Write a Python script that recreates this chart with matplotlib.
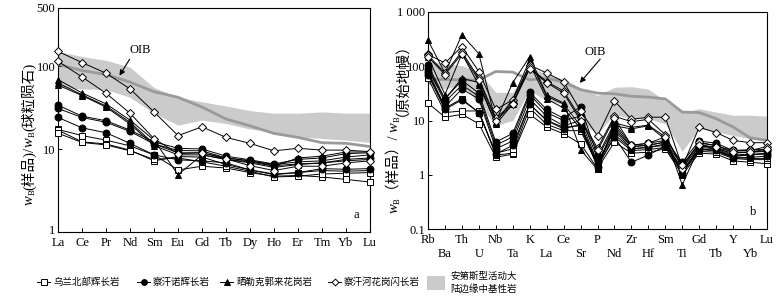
import numpy as np
import matplotlib
matplotlib.use("Agg")
import matplotlib.pyplot as plt
from matplotlib.lines import Line2D
from matplotlib.patches import Rectangle
from matplotlib.transforms import IdentityTransform, ScaledTranslation

plt.rcParams.update({'font.family': ['Liberation Serif', 'Noto Sans CJK SC'],
                     'font.size': 9, 'axes.linewidth': 0.8})

# ---- chondrite-normalised REE (panel a) ----
ree = ['La', 'Ce', 'Pr', 'Nd', 'Sm', 'Eu', 'Gd', 'Tb', 'Dy', 'Ho', 'Er', 'Tm', 'Yb', 'Lu']

ree_squares = [
    [17.2, 14.5, 12.8, 10.9, 8.5, 5.6, 6.2, 5.9, 5.2, 4.7, 4.8, 4.6, 4.3, 4.0],
    [16.9, 12.2, 11.5, 9.7, 7.2, 8.1, 8.0, 6.5, 5.6, 4.9, 5.2, 5.5, 5.4, 5.5],
    [15.5, 12.0, 11.2, 9.5, 7.5, 7.8, 7.0, 6.2, 5.4, 4.6, 4.7, 5.0, 5.1, 5.2],
]
ree_circles = [
    [33.7, 24.9, 21.9, 16.9, 12.2, 10.2, 10.0, 8.2, 7.4, 6.6, 7.5, 7.8, 8.8, 9.0],
    [30.8, 24.0, 21.0, 16.3, 11.5, 9.6, 9.5, 7.8, 7.2, 6.3, 6.6, 6.8, 7.5, 7.8],
    [24.0, 18.0, 15.7, 11.7, 8.5, 7.4, 7.2, 6.8, 5.6, 5.0, 5.2, 5.8, 5.7, 5.8],
]
ree_triangles = [
    [68.5, 47.4, 35.0, 22.3, 12.8, 4.9, 8.5, 7.5, 7.0, 6.2, 7.8, 8.2, 9.2, 9.2],
    [62.5, 45.0, 33.0, 21.0, 11.5, 9.0, 9.0, 7.8, 7.2, 6.5, 7.0, 7.2, 8.0, 8.5],
    [59.0, 44.0, 32.0, 20.0, 11.0, 8.5, 8.5, 7.5, 6.8, 6.0, 6.5, 6.8, 7.2, 7.5],
]
ree_diamonds = [
    [150, 110, 82, 53, 28, 14.5, 18.5, 13.8, 11.7, 9.5, 10.2, 9.7, 9.7, 9.3],
    [114, 74, 47, 27, 13.3, 8.8, 9.0, 7.6, 6.3, 5.5, 6.2, 6.2, 6.8, 7.2],
]
ree_band_hi = [150, 130, 117, 97, 55, 42, 37, 33, 29, 27, 27, 28, 27, 27]
ree_band_lo = [55, 53, 52, 42, 27, 19.4, 22.3, 20.3, 17.4, 16, 14, 13.4, 12.8, 12.0]
ree_oib = [105, 88, 79, 64, 49, 42, 32, 23, 19, 15.4, 13.8, 11.9, 11.7, 10.7]

# ---- primitive-mantle-normalised spider (panel b) ----
spd = ['Rb', 'Ba', 'Th', 'U', 'Nb', 'Ta', 'K', 'La', 'Ce', 'Sr', 'P', 'Nd', 'Zr', 'Hf',
       'Sm', 'Ti', 'Gd', 'Tb', 'Y', 'Yb', 'Lu']

spd_squares = [
    [21, 11.5, 13, 8.7, 2.1, 2.4, 13, 7.6, 5.7, 3.7, 1.3, 4.0, 2.5, 2.6, 3.0, 1.0, 2.5, 2.4, 1.8, 1.7, 1.6],
    [60, 14, 15, 15, 2.3, 2.5, 17, 8.5, 6.5, 6.5, 1.5, 5.0, 2.8, 2.9, 3.2, 1.1, 2.7, 2.6, 2.0, 1.9, 1.9],
    [75, 17, 25, 14, 2.5, 3.0, 20, 10, 7.5, 8.0, 1.7, 5.5, 3.0, 3.2, 3.5, 1.2, 2.9, 2.8, 2.1, 2.0, 2.0],
]
spd_circles = [
    [105, 25, 55, 32, 4.0, 5.8, 33, 16, 11, 18, 2.2, 9.0, 3.5, 3.8, 4.3, 1.7, 4.2, 3.8, 2.8, 2.9, 2.9],
    [90, 22, 45, 28, 3.5, 5.0, 30, 14, 10, 12, 2.0, 8.0, 3.3, 3.5, 4.0, 1.5, 3.8, 3.5, 2.6, 2.6, 2.7],
    [80, 18, 38, 25, 3.0, 4.2, 25, 12, 8.0, 10, 1.7, 6.5, 3.0, 3.2, 3.7, 1.3, 3.4, 3.2, 2.3, 2.4, 2.4],
    [70, 16, 24, 14, 2.4, 3.5, 20, 10, 7.0, 8.5, 1.4, 5.0, 1.7, 2.3, 3.4, 1.1, 3.0, 2.8, 2.0, 2.1, 2.2],
]
spd_triangles = [
    [300, 75, 380, 170, 9.5, 50, 150, 30, 21, 2.9, 1.25, 9.0, 7.5, 8.2, 5.0, 0.65, 3.2, 3.0, 2.2, 2.3, 2.5],
    [150, 30, 170, 45, 9.0, 25, 130, 28, 20, 8.0, 1.4, 8.0, 7.0, 8.0, 4.5, 1.0, 3.5, 3.0, 2.5, 2.6, 2.8],
    [90, 25, 60, 50, 8.5, 20, 110, 25, 17, 7.0, 1.6, 7.0, 3.3, 3.5, 4.0, 1.2, 3.0, 2.8, 2.2, 2.3, 2.5],
]
spd_diamonds = [
    [165, 115, 230, 80, 16, 24, 105, 75, 52, 15, 5.2, 23, 10.5, 11.5, 11.5, 1.4, 7.5, 6.0, 4.3, 3.9, 3.9],
    [160, 75, 185, 60, 11, 21, 95, 52, 35, 11, 3.1, 12, 9.5, 10.5, 5.5, 1.3, 4.0, 3.4, 2.8, 2.8, 3.3],
    [150, 70, 170, 55, 10, 20, 90, 50, 32, 10, 2.8, 11, 3.5, 3.8, 5.0, 1.5, 3.6, 3.2, 2.6, 2.6, 3.0],
]
spd_band_hi = [127, 110, 103, 78, 33, 33, 96, 72, 58, 40, 29, 41, 42, 38, 23, 14, 16.5, 14.3, 12.5, 12.5, 12]
spd_band_lo = [47, 38, 47, 20, 8.1, 10, 36, 23, 20, 9.4, 5.7, 13, 10.8, 10.8, 8.7, 2.7, 7.1, 6.2, 5.3, 4.6, 4.3]
spd_oib = [58, 57, 56, 56, 80, 78, 56, 61, 51, 37, 32, 31, 28, 27, 25, 14.3, 14, 10.8, 7.6, 4.8, 4.3]

labels = ['乌兰北部辉长岩', '察汗诺辉长岩', '晒勒克郭来花岗岩', '察汗河花岗闪长岩']
styles = [dict(marker='s', mfc='white', ms=5),
          dict(marker='o', mfc='black', ms=5),
          dict(marker='^', mfc='black', ms=5),
          dict(marker='D', mfc='white', ms=4.3)]
band_color = '#cbcbcb'
oib_color = '#9a9a9a'


def draw(ax, names, groups, hi, lo, oib):
    x = np.arange(len(names))
    ax.fill_between(x, lo, hi, color=band_color, lw=0, zorder=1)
    ax.plot(x, oib, color=oib_color, lw=2, zorder=2)
    for group, st in zip(groups, styles):
        for vals in group:
            ax.plot(x, vals, color='black', lw=0.7, mec='black', mew=0.7,
                    zorder=3, clip_on=False, **st)
    ax.set_yscale('log')
    ax.set_xlim(0, len(names) - 1)
    ax.set_xticks(x)
    ax.minorticks_off()
    ax.tick_params(direction='in', length=3, width=0.7, labelsize=9, pad=2)


def vlabel(fig, xbase, yc, pieces):
    # rotated y label built from pieces so w can be italic with subscript B
    r = fig.canvas.get_renderer()
    arts = []
    total = 0
    for s, size, dx, style in pieces:
        t = fig.text(0, 0, s, fontsize=size, style=style, rotation=90,
                     rotation_mode='anchor', ha='left', va='baseline',
                     transform=IdentityTransform())
        h = t.get_window_extent(r).height
        arts.append((t, dx, h))
        total += h
    y = yc - total / 2
    for t, dx, h in arts:
        t.set_position((xbase + dx, y))
        y += h


fig = plt.figure(figsize=(7.8, 2.96), dpi=100)

# panel a
ax1 = fig.add_axes([58 / 780, 1 - 232 / 296, 312 / 780, 224 / 296])
draw(ax1, ree, [ree_squares, ree_circles, ree_triangles, ree_diamonds],
     ree_band_hi, ree_band_lo, ree_oib)
ax1.set_ylim(1, 500)
ax1.set_yticks([1, 10, 100, 500])
ax1.set_yticklabels(['1', '10', '100', '500'])
ax1.set_xticklabels(ree)
ax1.tick_params(axis='x', pad=3.5)
# lift the "1" a little so it clears the La label
lab1 = ax1.get_yticklabels()[0]
lab1.set_transform(lab1.get_transform() + ScaledTranslation(0, 2 / 72, fig.dpi_scale_trans))
ax1.text(140, 296 - 50, 'OIB', transform=IdentityTransform(), ha='center', va='center')
ax1.annotate('', xy=(118, 296 - 78), xycoords='figure pixels',
             xytext=(131, 296 - 57), textcoords='figure pixels',
             arrowprops=dict(arrowstyle='-|>', color='black', lw=0.8,
                             mutation_scale=8))
ax1.text(0.955, 0.05, 'a', transform=ax1.transAxes, ha='center', va='bottom')

# panel b
ax2 = fig.add_axes([428 / 780, 1 - 229 / 296, 339 / 780, 217 / 296])
draw(ax2, spd, [spd_squares, spd_circles, spd_triangles, spd_diamonds],
     spd_band_hi, spd_band_lo, spd_oib)
ax2.set_ylim(0.1, 1000)
ax2.set_yticks([0.1, 1, 10, 100, 1000])
ax2.set_yticklabels(['0.1', '1', '10', '100', '1 000'])
ax2.set_xticklabels(spd)
for i, t in enumerate(ax2.xaxis.get_major_ticks()):
    t.set_pad(3.5 if i % 2 == 0 else 13.5)
ax2.text(595, 296 - 52, 'OIB', transform=IdentityTransform(), ha='center', va='center')
ax2.annotate('', xy=(578, 296 - 85), xycoords='figure pixels',
             xytext=(602, 296 - 57), textcoords='figure pixels',
             arrowprops=dict(arrowstyle='-|>', color='black', lw=0.8,
                             mutation_scale=8))
ax2.text(0.96, 0.05, 'b', transform=ax2.transAxes, ha='center', va='bottom')

# y labels: w_B(样品)/w_B(...)
vlabel(fig, 33, 296 - 134, [('w', 10.5, 0, 'italic'), ('B', 6, 2, 'normal'),
                            ('(样品)/', 10.5, 0, 'normal'),
                            ('w', 10.5, 0, 'italic'), ('B', 6, 2, 'normal'),
                            ('(球粒陨石)', 10.5, 0, 'normal')])
vlabel(fig, 398, 296 - 121, [('w', 10.5, 0, 'italic'), ('B', 6, 2, 'normal'),
                             ('（样品）/ ', 10.5, 0, 'normal'),
                             ('w', 10.5, 0, 'italic'), ('B', 6, 2, 'normal'),
                             ('（原始地幔）', 10.5, 0, 'normal')])

# legend along the bottom
yl = 1 - 282 / 296
starts = [37, 137, 220, 328]
for x0, lab, st in zip(starts, labels, styles):
    ln = Line2D([x0 / 780, (x0 + 6.5) / 780, (x0 + 13) / 780], [yl, yl, yl],
                transform=fig.transFigure, color='black', lw=0.7, mec='black',
                mew=0.7, markevery=[1], marker=st['marker'], mfc=st['mfc'],
                ms=st['ms'] - 0.8)
    fig.add_artist(ln)
    fig.text((x0 + 16) / 780, yl, lab, fontsize=6.8, va='center', ha='left',
             family='Noto Sans CJK SC')
fig.add_artist(Rectangle((427 / 780, 1 - 290 / 296), 18 / 780, 14 / 296,
                         transform=fig.transFigure, color=band_color, lw=0))
fig.text(450 / 780, 1 - 276 / 296, '安第斯型活动大', fontsize=6.8, va='center',
         family='Noto Sans CJK SC')
fig.text(450 / 780, 1 - 289 / 296, '陆边缘中基性岩', fontsize=6.8, va='center',
         family='Noto Sans CJK SC')

fig.savefig('out.png', dpi=100)
